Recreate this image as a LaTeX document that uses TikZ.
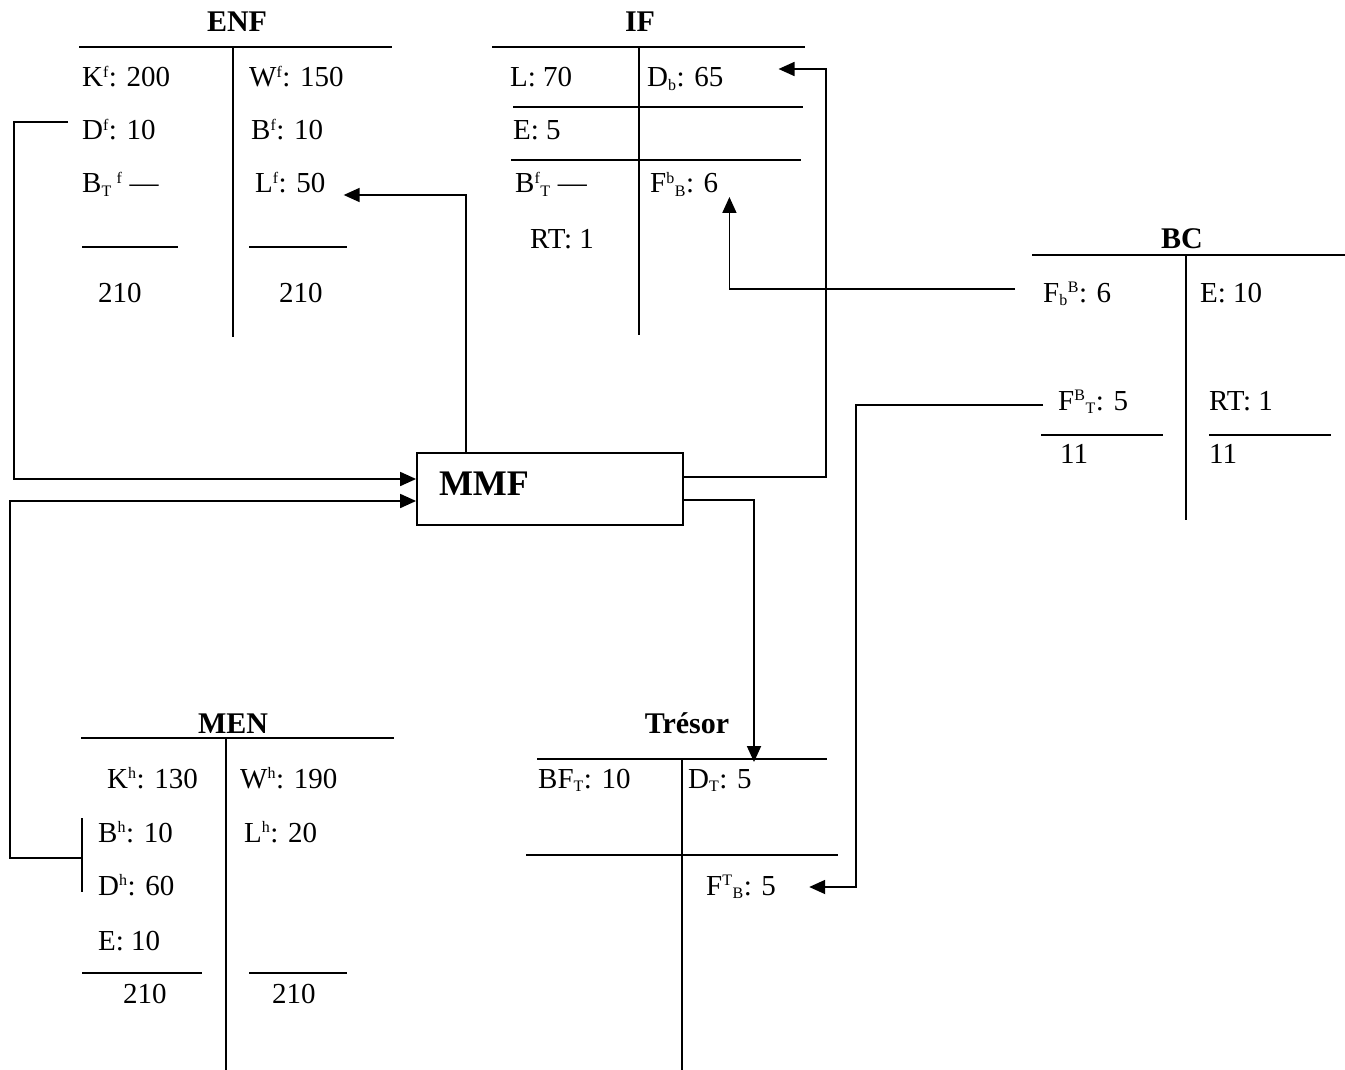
\documentclass[tikz,border=0pt]{standalone}
\usepackage{fontspec}
\setmainfont{Liberation Serif}
\usetikzlibrary{arrows.meta}
\newcommand{\supx}[1]{\textsuperscript{\fontsize{16}{16}\selectfont #1}}
\newcommand{\subx}[1]{\textsubscript{\fontsize{16}{16}\selectfont #1}}
\tikzset{entry/.style={anchor=base west,inner sep=0pt,font=\fontsize{29}{34}\selectfont},
 title/.style={anchor=base,inner sep=0pt,font=\fontsize{30}{36}\selectfont\bfseries},
 rule/.style={line width=1.8pt},
 arr/.style={-{Triangle[length=16pt,width=14pt]},line width=1.8pt},
 mmfbox/.style={draw,line width=1.8pt,minimum width=266pt,minimum height=72pt,text width=222pt,
 inner xsep=22pt,text height=23pt,text depth=11pt,align=left,font=\fontsize{36}{40}\selectfont\bfseries}}
\begin{document}
\begin{tikzpicture}[x=1pt,y=-1pt]
\useasboundingbox (0,0) rectangle (1345,1070);
\node[title] (enf) at (237,32) {ENF};
\draw[rule] (79,47)--(392,47) (233,47)--(233,337) (82,247)--(178,247) (249,247)--(347,247);
\node[entry] (Kf) at (82,87) {K\supx{f}: 200};
\node[entry] (Wf) at (249,87) {W\supx{f}: 150};
\node[entry] (Df) at (82,140) {D\supx{f}: 10};
\node[entry] (Bf) at (251,140) {B\supx{f}: 10};
\node[entry] (BTf) at (82,193) {B\subx{T}\,\supx{f} —};
\node[entry] (Lf) at (255,193) {L\supx{f}: 50};
\node[entry] (enfsumL) at (98,302) {210};
\node[entry] (enfsumR) at (279,302) {210};
\node[title] (if) at (640,32) {IF};
\draw[rule] (492,47)--(805,47) (639,47)--(639,335) (513,107)--(803,107) (511,160)--(801,160);
\node[entry] (Lif) at (510,87) {L: 70};
\node[entry] (Db) at (647,87) {D\subx{b}: 65};
\node[entry] (Eif) at (513,140) {E: 5};
\node[entry] (BfT) at (515,193) {B\supx{f}\subx{T} —};
\node[entry] (FBb) at (650,193) {F\supx{b}\subx{B}: 6};
\node[entry] (RTif) at (530,248) {RT: 1};
\node[title] (bc) at (1182,248) {BC};
\draw[rule] (1032,255)--(1345,255) (1186,255)--(1186,520) (1041,435)--(1163,435) (1209,435)--(1331,435);
\node[entry] (FbB) at (1043,302) {F\subx{b}\supx{B}: 6};
\node[entry] (Ebc) at (1200,302) {E: 10};
\node[entry] (FBT) at (1058,410) {F\supx{B}\subx{T}: 5};
\node[entry] (RTbc) at (1209,410) {RT: 1};
\node[entry] (bcsumL) at (1060,463) {11};
\node[entry] (bcsumR) at (1209,463) {11};
\node[title] (men) at (233,733) {MEN};
\draw[rule] (81,738)--(394,738) (226,738)--(226,1070) (82,973)--(202,973) (249,973)--(347,973);
\node[entry] (Kh) at (107,788) {K\supx{h}: 130};
\node[entry] (Wh) at (240,788) {W\supx{h}: 190};
\node[entry] (Bh) at (98,842) {B\supx{h}: 10};
\node[entry] (Lh) at (244,842) {L\supx{h}: 20};
\node[entry] (Dh) at (98,895) {D\supx{h}: 60};
\node[entry] (Emen) at (98,950) {E: 10};
\node[entry] (mensumL) at (123,1003) {210};
\node[entry] (mensumR) at (272,1003) {210};
\node[title] (tresor) at (687,733) {Trésor};
\draw[rule] (537,759)--(827,759) (682,759)--(682,1070) (526,855)--(838,855);
\node[entry] (BFT) at (538,788) {BF\subx{T}: 10};
\node[entry] (DT) at (688,788) {D\subx{T}: 5};
\node[entry] (FTB) at (706,895) {F\supx{T}\subx{B}: 5};
\node[mmfbox] (mmf) at (550,489) {MMF};
\coordinate (enfbend) at (14,122);
\coordinate (ifbend) at (826,69);
\coordinate (bcbend) at (856,887);
\coordinate (tresorin) at (754,762);
\coordinate (menbar) at (82,858);
\coordinate (menbend) at (10,858);
\draw[arr] ([shift={(-14pt,18pt)}]Df.base west)--(enfbend)|-([yshift=10pt]mmf.west);
\draw[arr] ([xshift=-84pt]mmf.north)|-([shift={(18pt,-2pt)}]Lf.base east);
\draw[arr] ([yshift=12pt]mmf.east)-|(ifbend)--([shift={(55pt,18pt)}]Db.base east);
\draw[arr] ([shift={(-28pt,13pt)}]FbB.base west)-|([shift={(11pt,-4pt)}]FBb.base east);
\draw[arr] ([shift={(-15pt,5pt)}]FBT.base west)-|(bcbend)--([shift={(33pt,8pt)}]FTB.base east);
\draw[arr] ([yshift=-11pt]mmf.east)-|(tresorin);
\draw[rule] ([shift={(-16pt,24pt)}]Bh.base west)--([shift={(-16pt,3pt)}]Dh.base west);
\draw[arr] (menbar)--(menbend)|-([yshift=-12pt]mmf.west);
\end{tikzpicture}
\end{document}
